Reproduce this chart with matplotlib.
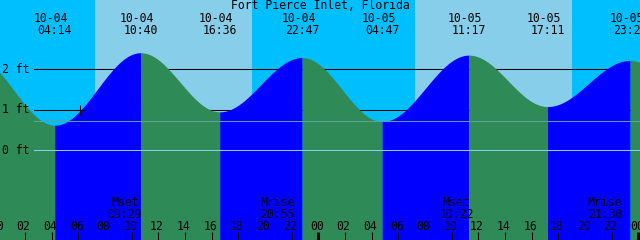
import numpy as np
import matplotlib
matplotlib.use("Agg")
import matplotlib.pyplot as plt

# Tide extremes (hours from 10-04 00:00, feet); first/last lie outside the view
tide_hours = [-1.8, 4.233, 10.667, 16.6, 22.783, 28.783, 35.283, 41.183, 47.383, 53.5]
tide_feet = [2.30, 0.62, 2.41, 0.95, 2.29, 0.71, 2.35, 1.08, 2.22, 0.75]

# Labels along the top
event_dates = ["10-04", "10-04", "10-04", "10-04", "10-05", "10-05", "10-05", "10-05"]
event_times = ["04:14", "10:40", "16:36", "22:47", "04:47", "11:17", "17:11", "23:23"]

# Sun (day bands) and moon events
sunrise = [7.27, 31.27]
sunset = [19.02, 43.02]
moon_names = ["Mset", "Mrise", "Mset", "Mrise"]
moon_times = ["09:29", "20:55", "10:22", "21:30"]
moon_days = [0, 0, 1, 1]

depth_feet = [2, 1, 0]
msl_feet = 0.73
now_mark = (6.125, 1.0)

NIGHT = "#00BFFF"
DAY = "#87CEEB"
RISE = "#0000FF"
FALL = "#2E8B57"
FONT = "DejaVu Sans Mono"
FS = 8.3

# pixel geometry: 640x240, 13.333 px per hour, 40.5 px per foot
PX_H = 640 / 48.0
X0 = 0.125
W, H = 640, 240
Y0FT = 150.3
PX_FT = 40.5


def hh(s, day=0):
    a, b = s.split(":")
    return day * 24 + int(a) + int(b) / 60.0


def fy(ypix):
    return 1 - ypix / H


def ft_of(ypix):
    return (Y0FT - ypix) / PX_FT


fig = plt.figure(figsize=(6.4, 2.4), dpi=100)
fig.patch.set_facecolor(NIGHT)
ax = fig.add_axes([0, 0, 1, 1])
ax.set_xlim(X0, X0 + 48)
ax.set_ylim(ft_of(H), ft_of(0))
ax.axis("off")
xt = ax.get_xaxis_transform()

# night everywhere, day bands on top
ax.axvspan(X0 - 1, X0 + 49, color=NIGHT, lw=0, zorder=0)
for a, b in zip(sunrise, sunset):
    ax.axvspan(a, b, color=DAY, lw=0, zorder=0)

# depth lines, drawn under the water
line_start = X0 + 33.7 / PX_H
for d in depth_feet[:2]:
    ax.plot([line_start, X0 + 48], [d, d], color="black", lw=0.75, zorder=1)

# tide curve, cosine between extremes
for i in range(len(tide_hours) - 1):
    t0, t1 = tide_hours[i], tide_hours[i + 1]
    h0, h1 = tide_feet[i], tide_feet[i + 1]
    t = np.linspace(t0, t1, 120)
    f = (t - t0) / (t1 - t0)
    v = h0 + (h1 - h0) * (1 - np.cos(np.pi * f)) / 2
    ax.fill_between(t, ft_of(H) - 1, v, color=RISE if h1 > h0 else FALL,
                    lw=0, zorder=2)

ax.plot([line_start, X0 + 48], [0, 0], color=DAY, lw=0.75, zorder=3)
ax.plot([line_start, X0 + 48], [msl_feet, msl_feet], color="#5F9EA0",
        lw=0.75, zorder=3)
ax.plot(*now_mark, marker="+", color="black", ms=7.5, mew=0.75, zorder=4)

for d, yb in zip(depth_feet, [73.3, 112.7, 154]):
    ax.text(X0 + 2 / PX_H, fy(yb), f"{d} ft", transform=xt, ha="left",
            va="baseline", family=FONT, fontsize=FS, zorder=5)

ax.text(0.5, fy(9.3), "Fort Pierce Inlet, Florida", transform=ax.transAxes,
        ha="center", va="baseline", family=FONT, fontsize=FS, zorder=5)

for d, s in zip(event_dates, event_times):
    t = hh(s, 0 if d == "10-04" else 1)
    ax.text(t - 3.5 / PX_H, fy(21.7), d, transform=xt, ha="center",
            va="baseline", family=FONT, fontsize=FS, zorder=5)
    ax.text(t, fy(34), s, transform=xt, ha="center",
            va="baseline", family=FONT, fontsize=FS, zorder=5)

# hour ticks and labels
hours = np.arange(0, 49, 2)
for h in hours:
    lw = 2.2 if h % 24 == 0 else 0.75
    ax.plot([h, h], [fy(H), fy(232)], transform=xt, color="black", lw=lw,
            solid_capstyle="butt", zorder=5)
    ax.text(h - 1.5 / PX_H, fy(230), f"{h % 24:02d}", transform=xt,
            ha="center", va="baseline", family=FONT, fontsize=FS, zorder=5)

for name, s, d in zip(moon_names, moon_times, moon_days):
    t = hh(s, d)
    ax.plot([t, t], [fy(H), fy(232)], transform=xt, color="black", lw=0.75,
            zorder=5)
    ax.text(t, fy(205.8), name, transform=xt, ha="center", va="baseline",
            family=FONT, fontsize=FS, zorder=5)
    ax.text(t, fy(217.5), s, transform=xt, ha="center", va="baseline",
            family=FONT, fontsize=FS, zorder=5)

fig.savefig("out.png", dpi=100, facecolor=NIGHT)
